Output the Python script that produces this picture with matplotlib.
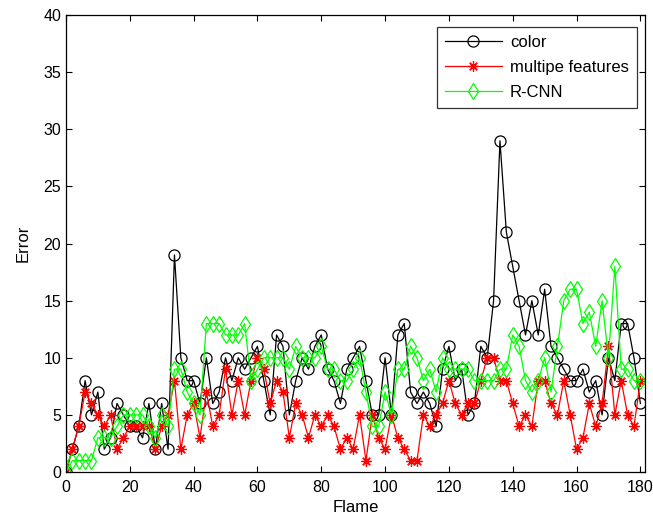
import matplotlib
matplotlib.use("Agg")
import matplotlib.pyplot as plt
import numpy as np

plt.rcParams['font.family'] = ['Liberation Sans', 'DejaVu Sans']

frames = list(range(0, 181, 2))

color_err = [0, 2, 4, 8, 5, 7, 2, 3, 6, 5, 4, 4, 3, 6, 2, 6, 2, 19, 10, 8,
             8, 6, 10, 6, 7, 10, 8, 10, 9, 10, 11, 8, 5, 12, 11, 5, 8, 10, 9, 11,
             12, 9, 8, 6, 9, 10, 11, 8, 5, 5, 10, 5, 12, 13, 7, 6, 7, 6, 4, 9,
             11, 8, 9, 5, 6, 11, 10, 15, 29, 21, 18, 15, 12, 15, 12, 16, 11, 10, 9, 8,
             8, 9, 7, 8, 5, 10, 8, 13, 13, 10, 6]

multi_err = [0, 2, 4, 7, 6, 5, 4, 5, 2, 3, 4, 4, 4, 4, 2, 4, 5, 8, 2, 5,
             6, 3, 7, 4, 5, 9, 5, 8, 5, 8, 10, 9, 6, 8, 7, 3, 6, 5, 3, 5,
             4, 5, 4, 2, 3, 2, 5, 1, 5, 3, 2, 5, 3, 2, 1, 1, 5, 4, 5, 6,
             8, 6, 5, 6, 6, 8, 10, 10, 8, 8, 6, 4, 5, 4, 8, 8, 6, 5, 8, 5,
             2, 3, 6, 4, 6, 11, 5, 8, 5, 4, 8]

rcnn_err = [0, 1, 1, 1, 1, 3, 3, 3, 4, 5, 5, 5, 5, 4, 3, 5, 4, 9, 9, 7,
            6, 5, 13, 13, 13, 12, 12, 12, 13, 8, 9, 10, 10, 10, 10, 9, 11, 10, 10, 10,
            11, 9, 9, 8, 8, 9, 10, 7, 4, 4, 7, 5, 9, 9, 11, 10, 8, 9, 7, 10,
            9, 9, 9, 9, 8, 8, 8, 8, 9, 9, 12, 11, 8, 7, 8, 10, 7, 11, 15, 16,
            16, 13, 14, 11, 15, 10, 18, 9, 9, 8, 8]

series_names = ['color', 'multipe features', 'R-CNN']

fig = plt.figure(figsize=(6.53, 5.21), dpi=100)
ax = fig.add_axes([0.101, 0.094, 0.887, 0.877])

ax.plot(frames, color_err, color='black', lw=0.9, marker='o', ms=8,
        mfc='none', mec='black', mew=0.9, label=series_names[0])
ax.plot(frames, multi_err, color='red', lw=0.9, marker=(8, 2, 0), ms=7.5,
        mfc='none', mec='red', mew=0.9, label=series_names[1])
ax.plot(frames, rcnn_err, color='#00ff00', lw=0.9, marker='d', ms=8.5,
        mfc='none', mec='#00ff00', mew=0.9, label=series_names[2])

ax.set_xlim(0, 181.5)
ax.set_ylim(0, 40)
ax.set_xticks(range(0, 181, 20))
ax.set_yticks(range(0, 41, 5))
ax.tick_params(direction='in', top=True, right=True, labelsize=11.5,
               length=4, width=0.8)
ax.tick_params(axis='x', pad=6)
for s in ax.spines.values():
    s.set_linewidth(0.9)

ax.set_xlabel('Flame', fontsize=12, labelpad=3)
ax.set_ylabel('Error', fontsize=12, labelpad=9)

leg = ax.legend(loc='upper right', bbox_to_anchor=(0.986, 0.974),
                fontsize=12, frameon=True, fancybox=False,
                edgecolor='black', handlelength=3.4, borderpad=0.5,
                labelspacing=0.58, handletextpad=0.5, borderaxespad=0.0)
leg.get_frame().set_linewidth(0.9)

fig.savefig('out.png', dpi=100)
